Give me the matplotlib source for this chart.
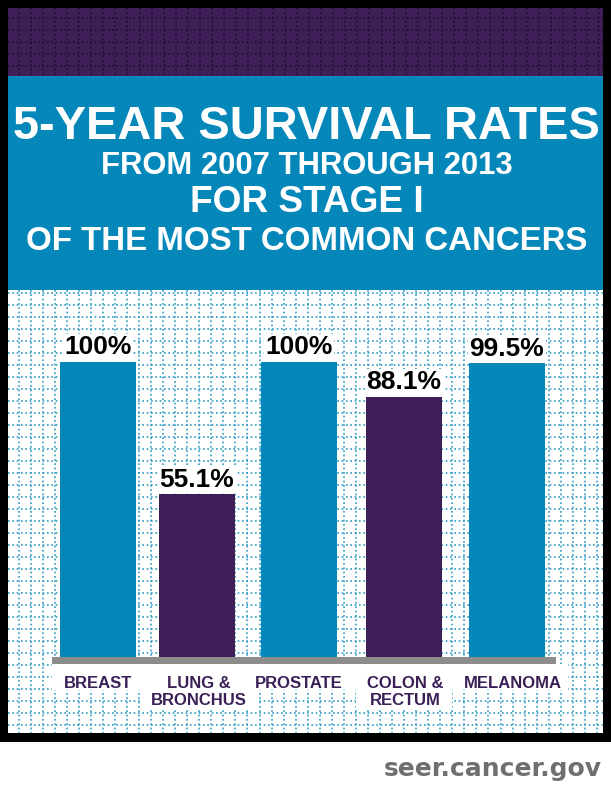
import numpy as np
import matplotlib
matplotlib.use("Agg")
import matplotlib.pyplot as plt
from matplotlib.patches import Rectangle

categories = ["BREAST", "LUNG &\nBRONCHUS", "PROSTATE", "COLON &\nRECTUM", "MELANOMA"]
rates = [100, 55.1, 100, 88.1, 99.5]
rate_labels = ["100%", "55.1%", "100%", "88.1%", "99.5%"]
highlight = [False, True, False, True, False]
title_lines = ["5-YEAR SURVIVAL RATES", "FROM 2007 THROUGH 2013", "FOR STAGE I", "OF THE MOST COMMON CANCERS"]

W, H = 611, 787
BLUE, PURPLE, GREY = "#0587B9", "#3F1F57", "#8C8C8C"
LABEL = "#3A2056"
NARROW = ["Liberation Sans Narrow", "Liberation Sans"]

fig = plt.figure(figsize=(W / 100, H / 100), dpi=100, facecolor="white")
bg = fig.add_axes([0, 0, 1, 1])
bg.set_xlim(0, W); bg.set_ylim(H, 0); bg.axis("off")

def rect(x0, y0, x1, y1, c, z=1):
    bg.add_patch(Rectangle((x0, y0), x1 - x0, y1 - y0, fc=c, ec="none", zorder=z))

rect(0, 0, W, 742, "black", 0)
rect(8, 8, 603, 76, PURPLE)
rect(8, 76, 603, 290, BLUE)
rect(8, 290, 603, 733, "white")

dots = dict(linewidth=1.2, linestyles=(0, (1.0, 1.6)))
# header weave
bg.vlines(np.arange(18.5, 603, 12.1), 8, 76, colors="#1E0F30", zorder=2, **dots)
bg.hlines(np.arange(17.5, 76, 12), 8, 603, colors="#1E0F30", zorder=2, **dots)
# plot-area dotted grid
bg.vlines(np.arange(18.5, 603, 12.05), 290, 733, colors="#2E9CC4", zorder=2, **dots)
bg.hlines(np.arange(292.5, 733, 12), 8, 603, colors="#2E9CC4", zorder=2, **dots)

# white plates behind the category labels
rect(52, 664, 568, 690, "white", 3)
rect(140, 689, 258, 708, "white", 3)
rect(356, 689, 452, 709, "white", 3)

# title
for s, y, size in zip(title_lines, [127, 166, 203, 241], [47, 31, 37, 33]):
    bg.text(W / 2 + 1, y, s, color="white", family=NARROW, weight="bold", fontsize=size * 0.72 / 0.72 * 0.72,
            ha="center", va="center", zorder=4)

bg.text(493, 769, "seer.cancer.gov", color="#6F6F6F", family="DejaVu Sans", weight="bold",
        fontsize=18, ha="center", va="center", zorder=4)

# bars: y scale 0 at pixel 657, 100 at pixel 362
ax = fig.add_axes([0, (H - 657) / H, 1, (657 - 362) / H], facecolor="none")
ax.set_xlim(0, W); ax.set_ylim(0, 100)
centers = [98, 197, 299, 404, 507]
label_x = [98, 199, 299, 405, 513]
colors = [PURPLE if h else BLUE for h in highlight]
ax.bar(centers, rates, width=76, color=colors, zorder=3)
for x, v, s in zip(centers, rates, rate_labels):
    ax.annotate(s, (x, v), xytext=(0, 2), textcoords="offset points", ha="center", va="bottom",
                family=NARROW, weight="bold", fontsize=19, color="black",
                bbox=dict(fc="white", ec="none", pad=1))
for sp in ["top", "left", "right"]:
    ax.spines[sp].set_visible(False)
ax.spines["bottom"].set_visible(False)
ax.set_yticks([])
ax.set_xticks(label_x)
ax.set_xticklabels(categories, family="Liberation Sans", weight="bold", fontsize=12, color=LABEL, linespacing=1.1)
ax.tick_params(axis="x", length=0, pad=14)
rect(52, 657, 556, 664, GREY, 5)

fig.savefig("out.png", dpi=100, facecolor="white")
